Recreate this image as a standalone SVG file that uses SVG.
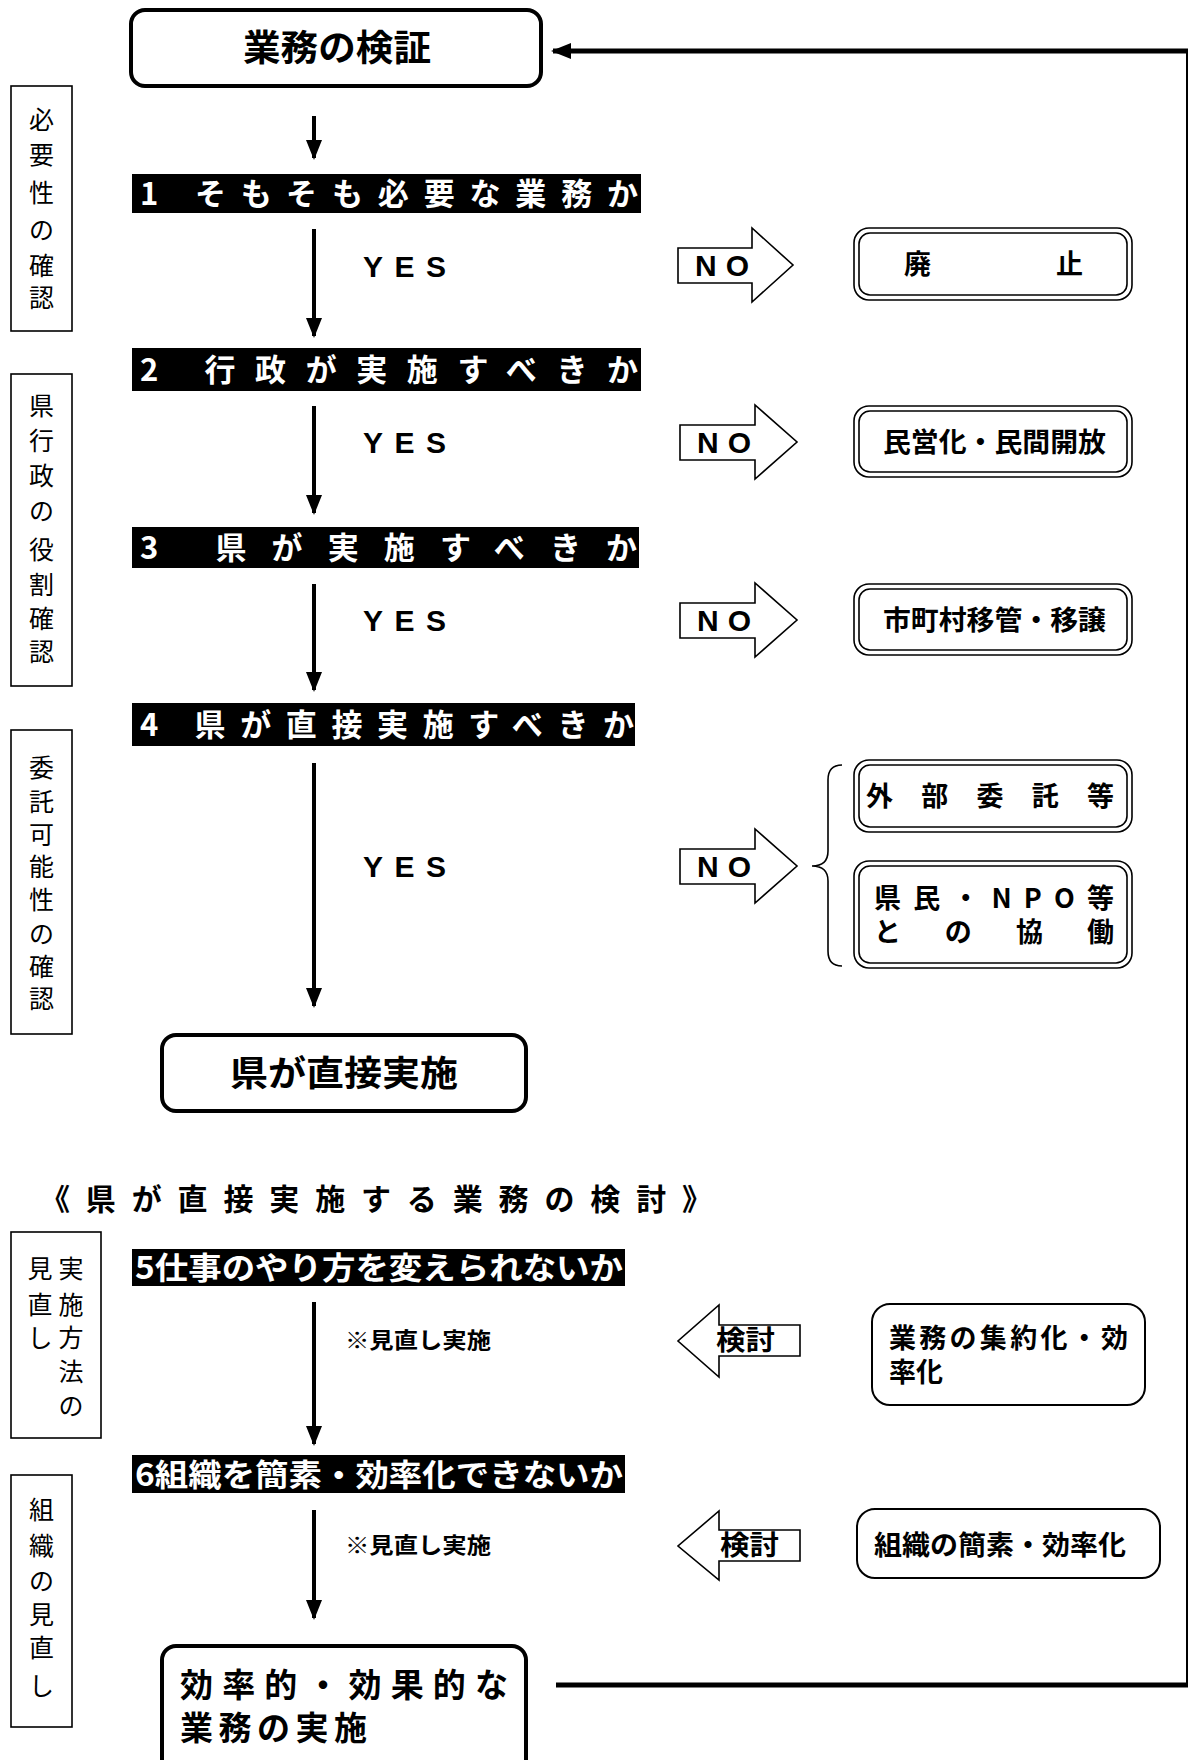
<svg xmlns="http://www.w3.org/2000/svg" width="1189" height="1760" viewBox="0 0 1189 1760">
<defs>
<style>
.jp{font-family:"Noto Sans CJK JP","Noto Sans CJK SC",sans-serif;}
.b{font-weight:bold;}
.lbl{font-family:"Noto Sans CJK JP",sans-serif;font-size:25px;text-anchor:middle;fill:#000;}
.bar{fill:#000;}
.bartxt{font-family:"Noto Sans CJK JP",sans-serif;font-weight:bold;font-size:31px;fill:#fff;}
.thick{fill:#fff;stroke:#000;stroke-width:4;}
.thin{fill:none;stroke:#000;stroke-width:1.6;}
.blk{fill:#fff;stroke:#000;stroke-width:1.6;}
.lat{font-family:"Liberation Sans",Arial,sans-serif;font-weight:bold;font-size:30px;fill:#000;}
.res{font-family:"Noto Sans CJK JP",sans-serif;font-weight:bold;font-size:27px;fill:#000;}
.conn{stroke:#000;stroke-width:4;fill:none;}
</style>
<marker id="ah" markerUnits="userSpaceOnUse" markerWidth="20" markerHeight="20" viewBox="0 0 20 20" refX="18" refY="10" orient="auto">
<path d="M0,2 L20,10 L0,18 Z" fill="#000"/>
</marker>
</defs>
<rect width="1189" height="1760" fill="#fff"/>

<g id="connectors">
<line class="conn" x1="314" y1="116" x2="314" y2="158" marker-end="url(#ah)"/>
<line class="conn" x1="314" y1="229" x2="314" y2="336" marker-end="url(#ah)"/>
<line class="conn" x1="314" y1="406" x2="314" y2="513" marker-end="url(#ah)"/>
<line class="conn" x1="314" y1="584" x2="314" y2="690" marker-end="url(#ah)"/>
<line class="conn" x1="314" y1="763" x2="314" y2="1006" marker-end="url(#ah)"/>
<line class="conn" x1="314" y1="1302" x2="314" y2="1444" marker-end="url(#ah)"/>
<line class="conn" x1="314" y1="1510" x2="314" y2="1618" marker-end="url(#ah)"/>
<line x1="556" y1="1685" x2="1188" y2="1685" stroke="#000" stroke-width="5"/>
<line x1="1187" y1="50" x2="1187" y2="1687" stroke="#000" stroke-width="2"/>
<line x1="1188" y1="51" x2="553" y2="51" stroke="#000" stroke-width="5" marker-end="url(#ah)"/>
</g>

<g id="n-start">
<rect class="thick" x="131" y="10" width="410" height="76" rx="14"/>
<text class="jp b" x="243" y="61" font-size="36" textLength="188" lengthAdjust="spacingAndGlyphs">業務の検証</text>
</g>

<g id="side-1">
<rect class="blk" x="11" y="86" width="61" height="245"/>
<text class="lbl" x="41.5" y="129">必</text>
<text class="lbl" x="41.5" y="164">要</text>
<text class="lbl" x="41.5" y="202">性</text>
<text class="lbl" x="41.5" y="239">の</text>
<text class="lbl" x="41.5" y="275">確</text>
<text class="lbl" x="41.5" y="307">認</text>
</g>
<g id="side-2">
<rect class="blk" x="11" y="374" width="61" height="312"/>
<text class="lbl" x="41.5" y="415">県</text>
<text class="lbl" x="41.5" y="450">行</text>
<text class="lbl" x="41.5" y="485">政</text>
<text class="lbl" x="41.5" y="520">の</text>
<text class="lbl" x="41.5" y="559">役</text>
<text class="lbl" x="41.5" y="594">割</text>
<text class="lbl" x="41.5" y="628">確</text>
<text class="lbl" x="41.5" y="661">認</text>
</g>
<g id="side-3">
<rect class="blk" x="11" y="730" width="61" height="304"/>
<text class="lbl" x="41.5" y="777">委</text>
<text class="lbl" x="41.5" y="811">託</text>
<text class="lbl" x="41.5" y="844">可</text>
<text class="lbl" x="41.5" y="876">能</text>
<text class="lbl" x="41.5" y="909">性</text>
<text class="lbl" x="41.5" y="943">の</text>
<text class="lbl" x="41.5" y="976">確</text>
<text class="lbl" x="41.5" y="1008">認</text>
</g>
<g id="side-4">
<rect class="blk" x="11" y="1232" width="90" height="206"/>
<text class="lbl" x="71" y="1278">実</text>
<text class="lbl" x="71" y="1314">施</text>
<text class="lbl" x="71" y="1347">方</text>
<text class="lbl" x="71" y="1381">法</text>
<text class="lbl" x="71" y="1415">の</text>
<text class="lbl" x="40" y="1278">見</text>
<text class="lbl" x="40" y="1314">直</text>
<text class="lbl" x="40" y="1347">し</text>
</g>
<g id="side-5">
<rect class="blk" x="11" y="1475" width="61" height="252"/>
<text class="lbl" x="41.5" y="1519">組</text>
<text class="lbl" x="41.5" y="1555">織</text>
<text class="lbl" x="41.5" y="1590">の</text>
<text class="lbl" x="41.5" y="1624">見</text>
<text class="lbl" x="41.5" y="1657">直</text>
<text class="lbl" x="41.5" y="1695">し</text>
</g>

<g id="q1">
<rect class="bar" x="132" y="174" width="509" height="39"/>
<text class="bartxt" x="140" y="205" textLength="498" lengthAdjust="spacing">1 そもそも必要な業務か</text>
</g>
<g id="q2">
<rect class="bar" x="132" y="348" width="509" height="43"/>
<text class="bartxt" x="140" y="381" textLength="498" lengthAdjust="spacing">2 行政が実施すべきか</text>
</g>
<g id="q3">
<rect class="bar" x="132" y="527" width="507" height="41"/>
<text class="bartxt" x="140" y="559" textLength="497" lengthAdjust="spacing">3 県が実施すべきか</text>
</g>
<g id="q4">
<rect class="bar" x="132" y="703" width="503" height="43"/>
<text class="bartxt" x="140" y="736" textLength="494" lengthAdjust="spacing">4 県が直接実施すべきか</text>
</g>

<g id="yes-labels">
<text class="lat" x="363" y="277" textLength="83" lengthAdjust="spacing">YES</text>
<text class="lat" x="363" y="453" textLength="83" lengthAdjust="spacing">YES</text>
<text class="lat" x="363" y="631" textLength="83" lengthAdjust="spacing">YES</text>
<text class="lat" x="363" y="877" textLength="83" lengthAdjust="spacing">YES</text>
</g>

<g id="no-1">
<path class="blk" d="M678,248 H752 V228 L793,265 L752,302 V283 H678 Z"/>
<text class="lat" x="695" y="276" textLength="54" lengthAdjust="spacing">NO</text>
</g>
<g id="no-2">
<path class="blk" d="M680,425 H755 V405 L797,442 L755,479 V460 H680 Z"/>
<text class="lat" x="697" y="453" textLength="54" lengthAdjust="spacing">NO</text>
</g>
<g id="no-3">
<path class="blk" d="M680,603 H755 V583 L797,620 L755,657 V638 H680 Z"/>
<text class="lat" x="697" y="631" textLength="54" lengthAdjust="spacing">NO</text>
</g>
<g id="no-4">
<path class="blk" d="M680,849 H755 V829 L797,866 L755,903 V884 H680 Z"/>
<text class="lat" x="697" y="877" textLength="54" lengthAdjust="spacing">NO</text>
</g>

<g id="r-haishi">
<rect class="thin" x="854" y="228" width="278" height="72" rx="15"/>
<rect class="thin" x="859" y="233" width="268" height="62" rx="11"/>
<text class="res" x="904" y="274" textLength="179" lengthAdjust="spacing">廃　　止</text>
</g>
<g id="r-mineika">
<rect class="thin" x="854" y="406" width="278" height="71" rx="15"/>
<rect class="thin" x="859" y="411" width="268" height="61" rx="11"/>
<text class="res" x="883" y="452" textLength="223" lengthAdjust="spacingAndGlyphs">民営化・民間開放</text>
</g>
<g id="r-shichoson">
<rect class="thin" x="854" y="584" width="278" height="71" rx="15"/>
<rect class="thin" x="859" y="589" width="268" height="61" rx="11"/>
<text class="res" x="883" y="630" textLength="223" lengthAdjust="spacingAndGlyphs">市町村移管・移譲</text>
</g>
<g id="r-gaibu">
<rect class="thin" x="854" y="760" width="278" height="72" rx="15"/>
<rect class="thin" x="859" y="765" width="268" height="62" rx="11"/>
<text class="res" x="866" y="806" textLength="248" lengthAdjust="spacing">外部委託等</text>
</g>
<g id="r-kyodo">
<rect class="thin" x="854" y="861" width="278" height="107" rx="15"/>
<rect class="thin" x="859" y="866" width="268" height="97" rx="11"/>
<text class="res" x="874" y="908" textLength="240" lengthAdjust="spacing">県民・NPO等</text>
<text class="res" x="874" y="942" textLength="240" lengthAdjust="spacing">との協働</text>
</g>
<g id="brace">
<path class="thin" d="M842,765 Q828,765 828,780 V851 Q828,866 812,866 Q828,866 828,881 V951 Q828,966 842,966"/>
</g>

<g id="n-direct">
<rect class="thick" x="162" y="1035" width="364" height="76" rx="14"/>
<text class="jp b" x="230" y="1086" font-size="35" textLength="228" lengthAdjust="spacingAndGlyphs">県が直接実施</text>
</g>

<g id="heading">
<text class="jp b" x="40" y="1210" font-size="30" textLength="672" lengthAdjust="spacing">《県が直接実施する業務の検討》</text>
</g>

<g id="q5">
<rect class="bar" x="132" y="1249" width="493" height="37"/>
<text class="bartxt" x="135" y="1279" font-size="30" textLength="488" lengthAdjust="spacingAndGlyphs">5仕事のやり方を変えられないか</text>
</g>
<g id="q6">
<rect class="bar" x="132" y="1455" width="493" height="38"/>
<text class="bartxt" x="135" y="1486" font-size="30" textLength="488" lengthAdjust="spacingAndGlyphs">6組織を簡素・効率化できないか</text>
</g>

<g id="note-labels">
<text class="jp b" x="345" y="1348" font-size="22" textLength="146" lengthAdjust="spacingAndGlyphs">※見直し実施</text>
<text class="jp b" x="345" y="1553" font-size="22" textLength="146" lengthAdjust="spacingAndGlyphs">※見直し実施</text>
</g>

<g id="kento-1">
<path class="blk" d="M800,1325 H719 V1305 L678,1341 L719,1377 V1356 H800 Z"/>
<text class="jp b" x="716" y="1350" font-size="27" textLength="59" lengthAdjust="spacingAndGlyphs">検討</text>
</g>
<g id="kento-2">
<path class="blk" d="M800,1530 H719 V1511 L678,1546 L719,1580 V1561 H800 Z"/>
<text class="jp b" x="720" y="1555" font-size="27" textLength="59" lengthAdjust="spacingAndGlyphs">検討</text>
</g>

<g id="r-shuyaku">
<rect x="872" y="1304" width="273" height="101" rx="18" fill="#fff" stroke="#000" stroke-width="2"/>
<text class="res" x="889" y="1348" textLength="239" lengthAdjust="spacing">業務の集約化・効</text>
<text class="res" x="889" y="1382">率化</text>
</g>
<g id="r-soshiki">
<rect x="857" y="1509" width="303" height="69" rx="18" fill="#fff" stroke="#000" stroke-width="2"/>
<text class="res" x="874" y="1555" textLength="252" lengthAdjust="spacingAndGlyphs">組織の簡素・効率化</text>
</g>

<g id="n-final">
<rect class="thick" x="162" y="1646" width="364" height="130" rx="14"/>
<text class="jp b" x="180" y="1697" font-size="33" textLength="328" lengthAdjust="spacing">効率的・効果的な</text>
<text class="jp b" x="180" y="1740" font-size="33" textLength="187" lengthAdjust="spacing">業務の実施</text>
</g>
</svg>
